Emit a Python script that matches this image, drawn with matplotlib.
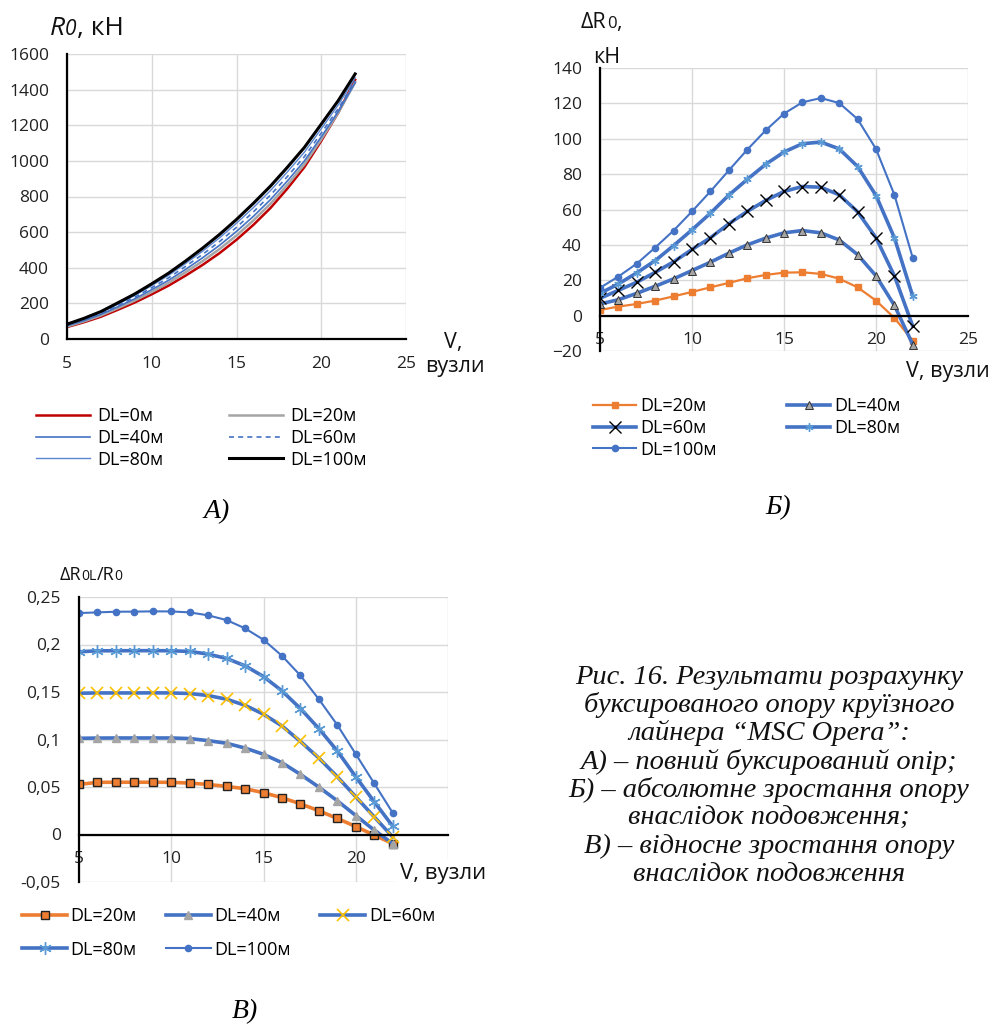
import matplotlib
matplotlib.use("Agg")
import matplotlib.pyplot as plt
from matplotlib.ticker import FixedLocator, FuncFormatter

W, H = 993, 1030
SANS = ["Open Sans", "DejaVu Sans"]
SERIF = ["Liberation Serif", "DejaVu Serif"]
plt.rcParams["font.family"] = SANS

# ---------------- data ----------------
V = [5, 6, 7, 8, 9, 10, 11, 12, 13, 14, 15, 16, 17, 18, 19, 20, 21, 22]

# Chart A: full towing resistance R0, kN
R0_dl0 = [67, 94, 125, 164, 205, 251, 300, 356, 416, 482, 557, 641, 735, 844, 964, 1112, 1270, 1455]
R0_dl20 = [70, 99, 132, 173, 216, 264, 316, 375, 437, 505, 581, 666, 759, 865, 980, 1121, 1269, 1441]
R0_dl40 = [74, 103, 138, 181, 226, 277, 330, 391, 456, 526, 604, 689, 782, 887, 999, 1135, 1276, 1439]
R0_dl60 = [77, 108, 144, 189, 235, 288, 344, 408, 475, 547, 627, 714, 808, 912, 1023, 1156, 1293, 1449]
R0_dl80 = [80, 112, 149, 195, 245, 300, 358, 424, 493, 568, 650, 738, 833, 938, 1048, 1180, 1314, 1466]
R0_dl100 = [83, 116, 154, 203, 253, 310, 370, 438, 510, 587, 671, 762, 858, 964, 1075, 1206, 1338, 1488]

# Chart B: absolute increase dR0, kN
dR_dl20 = [3.2, 5.1, 6.6, 8.5, 10.9, 13.4, 16.0, 18.5, 21.1, 23.0, 24.3, 24.5, 23.6, 20.9, 16.0, 8.5, -1.3, -14.2]
dR_dl40 = [6.6, 9.0, 12.6, 16.6, 20.8, 25.5, 30.2, 35.3, 40.0, 43.8, 46.8, 48.1, 46.8, 42.8, 34.5, 22.5, 5.8, -16.4]
dR_dl60 = [9.8, 14.3, 18.9, 24.5, 30.4, 37.4, 44.0, 51.9, 58.9, 65.1, 70.2, 73.0, 72.6, 68.3, 58.7, 44.0, 22.5, -6.0]
dR_dl80 = [12.6, 17.9, 24.2, 31.1, 39.6, 48.5, 57.9, 68.1, 77.0, 85.5, 92.5, 97.2, 98.1, 94.3, 84.3, 67.9, 44.0, 10.9]
dR_dl100 = [15.7, 22.1, 29.4, 38.5, 48.1, 58.9, 70.2, 82.1, 93.8, 104.7, 114.2, 120.6, 123.0, 120.2, 111.1, 94.2, 68.3, 32.5]

# Chart C: relative increase dR0L/R0
rel_dl20 = [0.0527, 0.0549, 0.0550, 0.0550, 0.0550, 0.0549, 0.0541, 0.0527, 0.0506, 0.0482, 0.0440, 0.0387, 0.0323, 0.0250, 0.0169, 0.0084, -0.0007, -0.0095]
rel_dl40 = [0.1013, 0.1015, 0.1016, 0.1016, 0.1016, 0.1016, 0.1010, 0.0988, 0.0960, 0.0910, 0.0844, 0.0756, 0.0633, 0.0499, 0.0355, 0.0200, 0.0046, -0.0095]
rel_dl60 = [0.1487, 0.1490, 0.1490, 0.1490, 0.1491, 0.1490, 0.1484, 0.1463, 0.1424, 0.1360, 0.1266, 0.1143, 0.0980, 0.0805, 0.0608, 0.0397, 0.0186, -0.0025]
rel_dl80 = [0.1923, 0.1934, 0.1934, 0.1935, 0.1935, 0.1934, 0.1927, 0.1899, 0.1853, 0.1776, 0.1663, 0.1512, 0.1326, 0.1115, 0.0879, 0.0608, 0.0345, 0.0088]
rel_dl100 = [0.2331, 0.2338, 0.2345, 0.2346, 0.2349, 0.2348, 0.2338, 0.2307, 0.2257, 0.2170, 0.2050, 0.1881, 0.1674, 0.1424, 0.1153, 0.0847, 0.0538, 0.0229]

labels_A = ["DL=0м", "DL=20м", "DL=40м", "DL=60м", "DL=80м", "DL=100м"]
labels_BC = ["DL=20м", "DL=40м", "DL=60м", "DL=80м", "DL=100м"]
xticks = [5, 10, 15, 20, 25]
yticks_A = [0, 200, 400, 600, 800, 1000, 1200, 1400, 1600]
yticks_B = [-20, 0, 20, 40, 60, 80, 100, 120, 140]
yticks_C = [-0.05, 0, 0.05, 0.1, 0.15, 0.2, 0.25]

caption_lines = [
    "Рис. 16. Результати розрахунку",
    "буксированого опору круїзного",
    "лайнера “MSC Opera”:",
    "А) – повний буксирований опір;",
    "Б) – абсолютне зростання опору",
    "внаслідок подовження;",
    "В) – відносне зростання опору",
    "внаслідок подовження",
]

BLUE = "#4472C4"
ORANGE = "#ED7D31"
GRAY = "#A5A5A5"
YELLOW = "#FFC000"
LBLUE = "#5B9BD5"
RED = "#C00000"
GRID = "#D9D9D9"
TXT = "#111111"

fig = plt.figure(figsize=(W / 100, H / 100), dpi=100)
fig.patch.set_facecolor("white")


def axes_px(x0, y0, x1, y1):
    return fig.add_axes([x0 / W, 1 - y1 / H, (x1 - x0) / W, (y1 - y0) / H])


def ftext(x, y, s, **kw):
    return fig.text(x / W, 1 - y / H, s, **kw)


def style_axes(ax, xlim, ylim, yt, ypad, xpad, yfmt=None, xfmt=None):
    ax.set_xlim(*xlim)
    ax.set_ylim(*ylim)
    ax.xaxis.set_major_locator(FixedLocator(xticks))
    ax.yaxis.set_major_locator(FixedLocator(yt))
    if yfmt:
        ax.yaxis.set_major_formatter(FuncFormatter(yfmt))
    if xfmt:
        ax.xaxis.set_major_formatter(FuncFormatter(xfmt))
    ax.grid(True, color=GRID, lw=1.0)
    ax.set_axisbelow(True)
    for s in ("top", "right"):
        ax.spines[s].set_visible(False)
    ax.spines["left"].set_color("black")
    ax.spines["left"].set_linewidth(1.6)
    ax.spines["bottom"].set_color("black")
    ax.spines["bottom"].set_linewidth(1.6)
    ax.tick_params(axis="both", length=0, labelsize=12.5, colors="#222222")
    ax.tick_params(axis="y", pad=ypad)
    ax.tick_params(axis="x", pad=xpad)


# ---------------- Chart A ----------------
axA = axes_px(67, 54, 406, 339)
style_axes(axA, (5, 25), (0, 1600), yticks_A, 13, 12)
la = []
la.append(axA.plot(V, R0_dl0, color=RED, lw=1.8)[0])
la.append(axA.plot(V, R0_dl20, color=GRAY, lw=1.8)[0])
la.append(axA.plot(V, R0_dl40, color=BLUE, lw=1.2)[0])
la.append(axA.plot(V, R0_dl60, color=BLUE, lw=1.2, ls=(0, (3, 2.5)))[0])
la.append(axA.plot(V, R0_dl80, color="#5A86D0", lw=1.0)[0])
la.append(axA.plot(V, R0_dl100, color="black", lw=2.2)[0])
order = [0, 2, 4, 1, 3, 5]
fig.legend([la[i] for i in order], [labels_A[i] for i in order], ncol=2,
           loc="center left", bbox_to_anchor=(36 / W, 1 - 438 / H),
           frameon=False, fontsize=13, handlelength=3.0, handletextpad=0.4,
           columnspacing=3.6, labelspacing=0.2, borderpad=0, borderaxespad=0)

# ---------------- Chart B ----------------
axB = axes_px(600, 68, 968, 351)
style_axes(axB, (5, 25), (-20, 140), yticks_B, 13, 12)
axB.spines["bottom"].set_position(("data", 0))
lb = []
lb.append(axB.plot(V, dR_dl20, color=ORANGE, lw=1.6, marker="s", ms=4,
                   mfc=ORANGE, mec=ORANGE)[0])
lb.append(axB.plot(V, dR_dl40, color=BLUE, lw=2.6, marker="^", ms=6,
                   mfc=GRAY, mec="#333333", mew=0.7)[0])
lb.append(axB.plot(V, dR_dl60, color=BLUE, lw=2.6, marker="x", ms=9,
                   mec="black", mew=1.0)[0])
lb.append(axB.plot(V, dR_dl80, color=BLUE, lw=2.6, marker=(6, 2, 0), ms=6,
                   mec=LBLUE, mew=1.0)[0])
lb.append(axB.plot(V, dR_dl100, color=BLUE, lw=1.5, marker="o", ms=4.5,
                   mfc=BLUE, mec=BLUE)[0])
order = [0, 2, 4, 1, 3]
fig.legend([lb[i] for i in order], [labels_BC[i] for i in order], ncol=2,
           loc="center left", bbox_to_anchor=(593 / W, 1 - 428 / H),
           frameon=False, fontsize=13, handlelength=2.4, handletextpad=0.2,
           columnspacing=3.9, labelspacing=0.2, borderpad=0, borderaxespad=0)

# ---------------- Chart C ----------------
axC = axes_px(79, 597, 448, 882)


def comma_fmt(v, pos):
    s = ("%.2f" % v).rstrip("0").rstrip(".")
    if s in ("-0", ""):
        s = "0"
    return s.replace(".", ",")


def hide25(v, pos):
    return "" if v >= 25 else "%d" % v


style_axes(axC, (5, 25), (-0.05, 0.25), yticks_C, 13, 12, comma_fmt, hide25)
axC.spines["bottom"].set_position(("data", 0))
lc = []
lc.append(axC.plot(V, rel_dl20, color=ORANGE, lw=2.6, marker="s", ms=6,
                   mfc=ORANGE, mec="#222222", mew=1.0)[0])
lc.append(axC.plot(V, rel_dl40, color=BLUE, lw=2.6, marker="^", ms=6,
                   mfc=GRAY, mec=GRAY)[0])
lc.append(axC.plot(V, rel_dl60, color=BLUE, lw=2.6, marker="x", ms=9,
                   mec=YELLOW, mew=1.2)[0])
lc.append(axC.plot(V, rel_dl80, color=BLUE, lw=2.6, marker=(6, 2, 0), ms=9,
                   mec=LBLUE, mew=1.0)[0])
lc.append(axC.plot(V, rel_dl100, color=BLUE, lw=1.5, marker="o", ms=4.5,
                   mfc=BLUE, mec=BLUE)[0])
order = [0, 3, 1, 4, 2]
fig.legend([lc[i] for i in order], [labels_BC[i] for i in order], ncol=3,
           loc="center left", bbox_to_anchor=(22 / W, 1 - 933 / H),
           frameon=False, fontsize=13, handlelength=2.5, handletextpad=0.2,
           columnspacing=1.6, labelspacing=0.85, borderpad=0, borderaxespad=0)

# ---------------- axis titles ----------------
fig.canvas.draw()
renderer = fig.canvas.get_renderer()


def rich(x, y, parts):
    """parts: list of (text, fontsize, style). x,y baseline-left in px."""
    cx = x
    for s, fs, st in parts:
        t = ftext(cx, y, s, fontsize=fs, style=st, ha="left", va="baseline",
                  color=TXT)
        bb = t.get_window_extent(renderer)
        cx += bb.width


rich(50, 35, [("R", 19, "italic"), ("0", 15, "italic"), (", кН", 19, "normal")])
ftext(453, 348, "V,", fontsize=15.5, ha="center", va="baseline", color=TXT)
ftext(455, 372, "вузли", fontsize=15.5, ha="center", va="baseline", color=TXT)

rich(581, 28, [("ΔR", 15.5, "normal"), ("0", 12, "normal"), (",", 15.5, "normal")])
ftext(607, 63, "кН", fontsize=15.5, ha="center", va="baseline", color=TXT)
ftext(948, 377, "V, вузли", fontsize=15.5, ha="center", va="baseline", color=TXT)

rich(60, 580, [("ΔR", 13, "normal"), ("0L", 10, "normal"), ("/R", 13, "normal"),
               ("0", 10, "normal")])
ftext(443, 879, "V, вузли", fontsize=16, ha="center", va="baseline", color=TXT,
      bbox=dict(boxstyle="square,pad=0.2", fc="white", ec="none"))

# panel letters
ftext(217, 518, "А)", fontsize=20, family=SERIF, style="italic", ha="center",
      va="baseline")
ftext(778, 514, "Б)", fontsize=20, family=SERIF, style="italic", ha="center",
      va="baseline")
ftext(245, 1018, "В)", fontsize=20, family=SERIF, style="italic", ha="center",
      va="baseline")

# caption
for i, line in enumerate(caption_lines):
    ftext(769, 684 + 28.2 * i, line, fontsize=20.5, family=SERIF, style="italic",
          ha="center", va="baseline", color=TXT)

fig.savefig("out.png", dpi=100, facecolor="white")
